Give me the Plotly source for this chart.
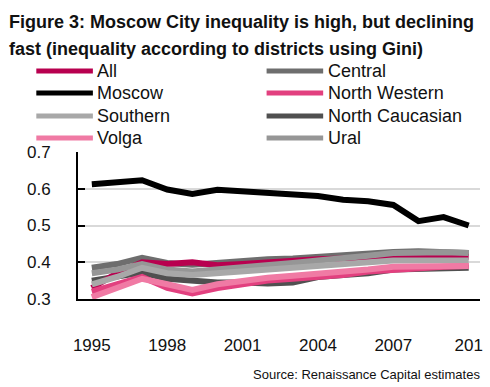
import plotly.graph_objects as go

years = list(range(1995, 2011))
series_names = ["All", "Central", "Moscow", "North Western",
                "Southern", "North Caucasian", "Volga", "Ural"]
all_ru = [0.330, 0.370, 0.400, 0.395, 0.400, 0.392, 0.395, 0.400, 0.405, 0.408, 0.410, 0.412, 0.415, 0.418, 0.416, 0.415]
central = [0.385, 0.395, 0.412, 0.398, 0.393, 0.398, 0.405, 0.408, 0.410, 0.415, 0.418, 0.425, 0.428, 0.430, 0.428, 0.425]
moscow = [0.612, 0.619, 0.623, 0.598, 0.586, 0.597, 0.593, 0.590, 0.586, 0.580, 0.570, 0.566, 0.556, 0.512, 0.523, 0.500]
north_western = [0.320, 0.340, 0.360, 0.330, 0.315, 0.330, 0.340, 0.350, 0.355, 0.360, 0.365, 0.375, 0.380, 0.385, 0.388, 0.390]
southern = [0.340, 0.360, 0.385, 0.370, 0.365, 0.370, 0.375, 0.380, 0.385, 0.390, 0.395, 0.400, 0.405, 0.405, 0.405, 0.405]
north_caucasian = [0.350, 0.360, 0.372, 0.355, 0.350, 0.345, 0.345, 0.342, 0.345, 0.360, 0.365, 0.370, 0.380, 0.382, 0.383, 0.385]
volga = [0.305, 0.330, 0.355, 0.340, 0.325, 0.340, 0.350, 0.358, 0.363, 0.368, 0.372, 0.380, 0.388, 0.390, 0.390, 0.390]
ural = [0.370, 0.380, 0.395, 0.380, 0.375, 0.380, 0.385, 0.390, 0.398, 0.405, 0.410, 0.418, 0.425, 0.428, 0.427, 0.425]

x_tick_vals = [1995, 1998, 2001, 2004, 2007, 2010]
x_tick_text = ["1995", "1998", "2001", "2004", "2007", "201"]
y_tick_vals = [0.3, 0.4, 0.5, 0.6, 0.7]
y_tick_text = ["0.3", "0.4", "0.5", "0.6", "0.7"]

title_lines = ["Figure 3: Moscow City inequality is high, but declining",
               "fast (inequality according to districts using Gini)"]
source_text = "Source: Renaissance Capital estimates"

values = {"All": all_ru, "Central": central, "Moscow": moscow,
          "North Western": north_western, "Southern": southern,
          "North Caucasian": north_caucasian, "Volga": volga, "Ural": ural}
colors = {"All": "#b8004f", "Central": "#6e6e6e", "Moscow": "#000000",
          "North Western": "#e2407f", "Southern": "#a8a8a8",
          "North Caucasian": "#505050", "Volga": "#f07aa4", "Ural": "#969696"}
draw_order = ["Moscow", "North Caucasian", "Central", "All",
              "North Western", "Ural", "Southern", "Volga"]

W, H = 490, 387
L, R, T, B = 78, 483, 152, 299

def px(x):
    return (x - L) / (R - L)

def py(y):
    return (B - y) / (B - T)

FONT = "Liberation Sans, Arial, sans-serif"

fig = go.Figure()
for name in draw_order:
    fig.add_trace(go.Scatter(x=years, y=values[name], mode="lines", name=name,
                             line=dict(color=colors[name], width=6, shape="linear"),
                             showlegend=False, hoverinfo="skip"))

# custom legend
col_x = [(36, 93, 97), (268, 325, 330)]
row_y = [71, 93, 116, 138]
for i, name in enumerate(series_names):
    c, r = i % 2, i // 2
    x0, x1, xt = col_x[c]
    yy = row_y[r]
    fig.add_shape(type="line", xref="paper", yref="paper",
                  x0=px(x0), x1=px(x1), y0=py(yy), y1=py(yy),
                  line=dict(color=colors[name], width=5))
    fig.add_annotation(xref="paper", yref="paper", x=px(xt - 2), y=py(yy),
                       xanchor="left", yanchor="middle", text=name, showarrow=False,
                       font=dict(family=FONT, size=18, color="#111111"))

for j, (line, yy) in enumerate(zip(title_lines, [22, 49])):
    fig.add_annotation(xref="paper", yref="paper", x=px(6), y=py(yy),
                       xanchor="left", yanchor="middle", text="<b>" + line + "</b>",
                       showarrow=False, font=dict(family=FONT, size=18, color="#111111"))

fig.add_annotation(xref="paper", yref="paper", x=px(485), y=py(374),
                   xanchor="right", yanchor="middle", text=source_text, showarrow=False,
                   font=dict(family=FONT, size=13, color="#111111"))

fig.update_layout(
    width=W, height=H,
    margin=dict(l=L, r=W - R, t=T, b=H - B, pad=0),
    paper_bgcolor="white", plot_bgcolor="white",
    showlegend=False,
    font=dict(family=FONT, size=17, color="#111111"),
)
fig.update_xaxes(range=[1994.45, 2010.45], tickvals=x_tick_vals, ticktext=x_tick_text,
                 showgrid=False, zeroline=False, showline=True, linecolor="#000000",
                 linewidth=2, ticks="", ticklabelstandoff=30,
                 tickfont=dict(family=FONT, size=17, color="#111111"))
fig.update_yaxes(range=[0.3, 0.7], tickvals=y_tick_vals, ticktext=y_tick_text,
                 showgrid=True, gridcolor="#d9d9d9", gridwidth=2, zeroline=False,
                 showline=True, linecolor="#000000", linewidth=2,
                 ticks="inside", ticklen=7, tickwidth=2, tickcolor="#000000",
                 ticklabelstandoff=22,
                 tickfont=dict(family=FONT, size=17, color="#111111"))

fig.write_html("out.html", config={"displayModeBar": False},
               post_script="document.body.style.margin='0';document.body.style.overflow='hidden';")
